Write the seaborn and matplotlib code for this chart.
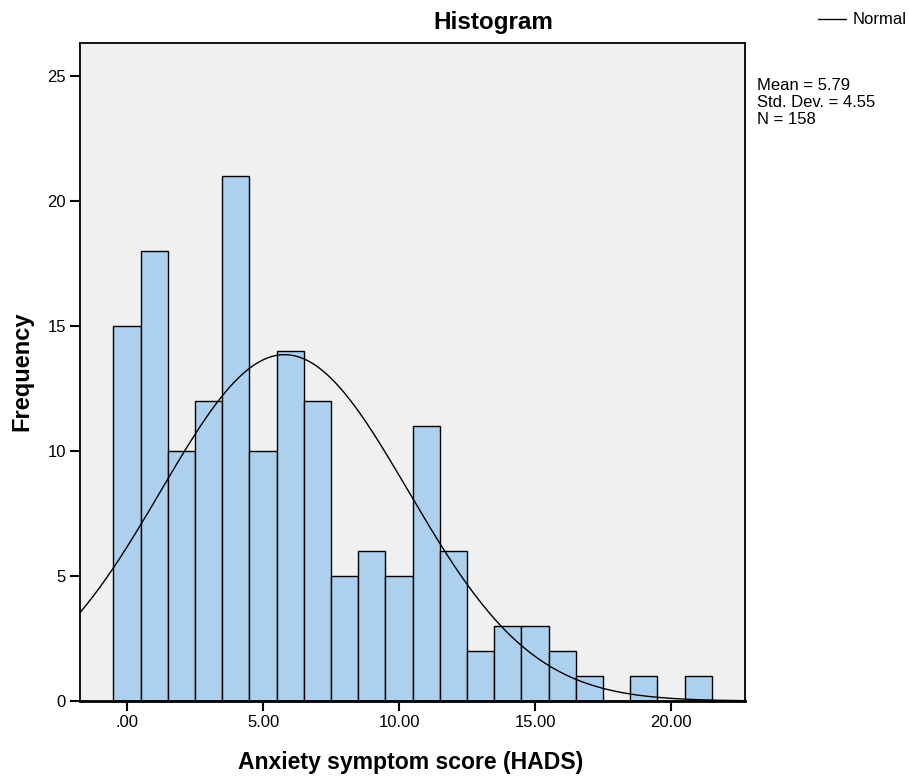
import numpy as np
import matplotlib
matplotlib.use("Agg")
import matplotlib.pyplot as plt
import seaborn as sns

# Data
scores = [0, 1, 2, 3, 4, 5, 6, 7, 8, 9, 10, 11, 12, 13, 14, 15, 16, 17, 18, 19, 20, 21]
counts = [15, 18, 10, 12, 21, 10, 14, 12, 5, 6, 5, 11, 6, 2, 3, 3, 2, 1, 0, 1, 0, 1]
mean_val = 5.79
std_val = 4.55
n_val = 158
x_ticks = [0, 5, 10, 15, 20]
x_tick_labels = [".00", "5.00", "10.00", "15.00", "20.00"]
y_ticks = [0, 5, 10, 15, 20, 25]

sns.set_theme(style="white")
plt.rcParams['font.family'] = ['Liberation Sans', 'DejaVu Sans']
plt.rcParams['text.color'] = 'black'
plt.rcParams['axes.labelcolor'] = 'black'
plt.rcParams['xtick.color'] = 'black'
plt.rcParams['ytick.color'] = 'black'

fig = plt.figure(figsize=(9.09, 7.78), dpi=100)
ax = fig.add_axes([80/909, 1-701/778, (745-80)/909, (701-43)/778])
ax.set_facecolor("#F0F0F0")

sns.histplot(x=scores, weights=counts, discrete=True, ax=ax,
             color="#ADD0EE", edgecolor="black", linewidth=1.0, alpha=1.0)

xmin, xmax = -1.73, 22.72
xs = np.linspace(xmin, xmax, 400)
pdf = n_val * 1.0 / (std_val * np.sqrt(2 * np.pi)) * np.exp(-0.5 * ((xs - mean_val) / std_val) ** 2)
ax.plot(xs, pdf, color="black", linewidth=1.0)

ax.set_xlim(xmin, xmax)
ax.set_ylim(0, 26.32)
ax.set_xticks(x_ticks)
ax.set_xticklabels(x_tick_labels)
ax.set_yticks(y_ticks)
ax.tick_params(axis="both", which="major", direction="out", length=7, width=1.5,
               color="black", labelsize=12, labelcolor="black", pad=3,
               bottom=True, left=True)
for s in ax.spines.values():
    s.set_color("black")
    s.set_linewidth(1.3)
ax.spines["bottom"].set_linewidth(2)
ax.set_xlabel("")
ax.set_ylabel("")

fig.text(493/909, 1-22/778, "Histogram", ha="center", va="center",
         fontsize=17.5, fontweight="bold", color="black")
fig.text(411/909, 1-762/778, "Anxiety symptom score (HADS)", ha="center", va="center",
         fontsize=16.6, fontweight="bold", color="black")
fig.text(22/909, 1-371/778, "Frequency", ha="center", va="center", rotation=90,
         fontsize=17, fontweight="bold", color="black")

fig.text(757/909, 1-78/778, "Mean = 5.79\nStd. Dev. = 4.55\nN = 158",
         ha="left", va="top", fontsize=12, linespacing=1.18, color="black")

fig.add_artist(plt.Line2D([818/909, 846/909], [1-19/778, 1-19/778],
                          color="black", linewidth=1.0))
fig.text(853/909, 1-19/778, "Normal", ha="left", va="center", fontsize=12, color="black")

fig.savefig("out.png", dpi=100)
